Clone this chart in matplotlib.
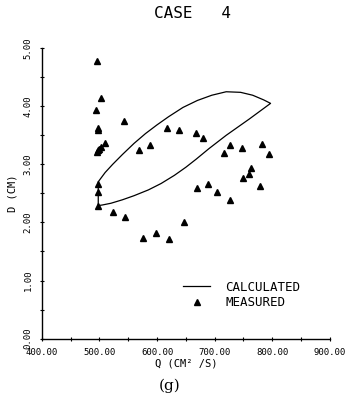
import numpy as np
import matplotlib
matplotlib.use("Agg")
import matplotlib.pyplot as plt
from matplotlib.ticker import MultipleLocator, FormatStrFormatter

plt.rcParams["font.family"] = ["DejaVu Sans Mono"]

# measured points: Q (cm^2/s), D (cm)
q_meas = [496, 502, 494, 542, 497, 497, 617, 638, 510, 503, 497, 499, 495,
          588, 568, 498, 497, 498, 524, 545, 575, 598, 621, 646, 670, 668,
          680, 727, 748, 782, 716, 795, 763, 759, 750, 778, 688, 704, 726]
d_meas = [4.78, 4.15, 3.93, 3.75, 3.63, 3.59, 3.62, 3.60, 3.37, 3.30, 3.24,
          3.27, 3.22, 3.33, 3.24, 2.67, 2.52, 2.29, 2.18, 2.10, 1.73, 1.82,
          1.71, 2.01, 2.59, 3.54, 3.45, 3.34, 3.28, 3.35, 3.19, 3.18, 2.94,
          2.83, 2.76, 2.62, 2.66, 2.53, 2.38]

# calculated loop: up the left edge, along the upper branch, back on the lower one
q_calc = [498, 498, 510, 523, 540, 560, 580, 600, 620, 645, 670, 695, 720,
          745, 766, 785, 797, 760, 720, 690, 668, 650, 630, 607, 585, 560,
          540, 520, 505, 498]
d_calc = [2.29, 2.70, 2.86, 3.00, 3.17, 3.36, 3.53, 3.68, 3.82, 3.98, 4.10,
          4.19, 4.25, 4.24, 4.19, 4.11, 4.05, 3.78, 3.50, 3.27, 3.09, 2.95,
          2.81, 2.67, 2.56, 2.46, 2.39, 2.33, 2.30, 2.29]

fig = plt.figure(figsize=(3.54, 4.05), dpi=100)
ax = fig.add_axes([0.118, 0.164, 0.814, 0.717])

ax.plot(q_calc, d_calc, color="black", lw=0.9, label="CALCULATED")
ax.plot(q_meas, d_meas, ls="none", marker="^", ms=5, color="black",
        label="MEASURED")

ax.set_xlim(400, 900)
ax.set_ylim(0, 5)
ax.xaxis.set_major_locator(MultipleLocator(100))
ax.xaxis.set_minor_locator(MultipleLocator(50))
ax.yaxis.set_major_locator(MultipleLocator(1))
ax.yaxis.set_minor_locator(MultipleLocator(0.5))
ax.xaxis.set_major_formatter(FormatStrFormatter("%.2f"))
ax.yaxis.set_major_formatter(FormatStrFormatter("%.2f"))

for s in ("top", "right"):
    ax.spines[s].set_visible(False)
for s in ("left", "bottom"):
    ax.spines[s].set_linewidth(1.0)

ax.tick_params(which="both", direction="inout", length=3.5, width=0.8)
ax.tick_params(axis="x", labelsize=6.5, pad=5)
ax.tick_params(axis="y", labelsize=6.5, pad=5, labelrotation=90)
for lab in ax.get_yticklabels():
    lab.set_va("center")

ax.set_xlabel("Q (CM² /S)", fontsize=7.5, labelpad=1)
ax.set_ylabel("D (CM)", fontsize=7.5, labelpad=4)

ax.legend(loc="upper left", bbox_to_anchor=(0.49, 0.20), frameon=False,
          fontsize=9, handlelength=2.2, borderpad=0, borderaxespad=0,
          labelspacing=0.2, handletextpad=1.2)

fig.text(0.545, 1 - 13 / 405, "CASE   4", ha="center", va="center",
         fontsize=11.5)
fig.text(0.48, 1 - 386 / 405, "(g)", ha="center", va="center",
         fontsize=11, family="DejaVu Serif")

fig.savefig("out.png", dpi=100)
